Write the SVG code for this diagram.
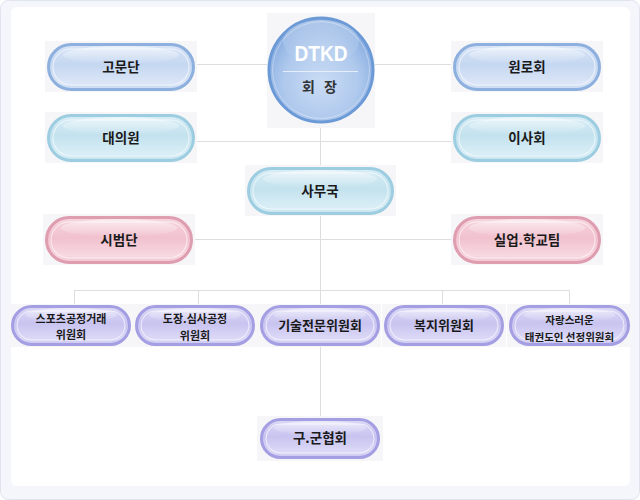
<svg xmlns="http://www.w3.org/2000/svg" width="640" height="500" viewBox="0 0 640 500">
<defs>
  <linearGradient id="gBlue" x1="0" y1="0" x2="0" y2="1">
    <stop offset="0" stop-color="#d9e5f7"/><stop offset="0.45" stop-color="#c5d7f1"/><stop offset="0.85" stop-color="#dbe6f7"/><stop offset="1" stop-color="#c8d9f2"/>
  </linearGradient>
  <linearGradient id="gCyan" x1="0" y1="0" x2="0" y2="1">
    <stop offset="0" stop-color="#d8edf6"/><stop offset="0.45" stop-color="#c3e2ee"/><stop offset="0.85" stop-color="#d9eef6"/><stop offset="1" stop-color="#c5e3ef"/>
  </linearGradient>
  <linearGradient id="gPink" x1="0" y1="0" x2="0" y2="1">
    <stop offset="0" stop-color="#f6d6df"/><stop offset="0.45" stop-color="#f1c1ce"/><stop offset="0.85" stop-color="#f7d8e1"/><stop offset="1" stop-color="#f1c3d0"/>
  </linearGradient>
  <linearGradient id="gPurple" x1="0" y1="0" x2="0" y2="1">
    <stop offset="0" stop-color="#dcd9f6"/><stop offset="0.45" stop-color="#c8c4f0"/><stop offset="0.85" stop-color="#dcd9f7"/><stop offset="1" stop-color="#c9c5f0"/>
  </linearGradient>
  <radialGradient id="gCircle" cx="0.5" cy="0.62" r="0.6">
    <stop offset="0" stop-color="#cadcf4"/><stop offset="0.6" stop-color="#afc9ed"/><stop offset="1" stop-color="#84aadf"/>
  </radialGradient>
  <linearGradient id="gGloss" x1="0" y1="0" x2="0" y2="1">
    <stop offset="0" stop-color="#ffffff" stop-opacity="0.55"/><stop offset="1" stop-color="#ffffff" stop-opacity="0"/>
  </linearGradient>
</defs>
<style>
  .bg { fill: #f6f6f8; }
  .pill { stroke-width: 3; }
  .inner { fill: none; stroke: #ffffff; stroke-opacity: 0.7; stroke-width: 1; }
  .gloss { fill: url(#gGloss); }
  .blue .pill { fill: url(#gBlue); stroke: #8db0de; }
  .cyan .pill { fill: url(#gCyan); stroke: #9dcde0; }
  .pink .pill { fill: url(#gPink); stroke: #df9db0; }
  .purple .pill { fill: url(#gPurple); stroke: #a49ee3; }
  .lbl { font-family: "Noto Sans CJK KR", "Noto Sans", sans-serif; font-weight: bold; fill: #1a1a1a; text-anchor: middle; }
  .big { font-size: 13.5px; }
  .mid { font-size: 13px; }
  .sm { font-size: 11px; }
  .xs { font-size: 10.5px; }
  .conn line { stroke: #dddddd; stroke-width: 1; }
</style>

<rect x="0.5" y="0.5" width="639" height="499" rx="8" fill="#f4f6fb" stroke="#dfe4ef"/>
<rect x="11" y="7" width="619" height="479" rx="6" fill="#ffffff"/>

<g id="connectors" class="conn">
  <line x1="195" y1="64.5" x2="453" y2="64.5"/>
  <line x1="195" y1="141.5" x2="453" y2="141.5"/>
  <line x1="320.5" y1="120" x2="320.5" y2="418"/>
  <line x1="193" y1="239.5" x2="453" y2="239.5"/>
  <line x1="74.5" y1="290.5" x2="569.5" y2="290.5"/>
  <line x1="74.5" y1="290" x2="74.5" y2="306"/>
  <line x1="198.5" y1="290" x2="198.5" y2="306"/>
  <line x1="442.5" y1="290" x2="442.5" y2="306"/>
  <line x1="569.5" y1="290" x2="569.5" y2="306"/>
</g>

<g id="president">
  <rect class="bg" x="267" y="13" width="108" height="115"/>
  <circle cx="321" cy="70" r="52" fill="url(#gCircle)" stroke="#6c9ad7" stroke-width="3"/>
  <circle cx="321" cy="70" r="48.5" fill="none" stroke="#ffffff" stroke-opacity="0.35" stroke-width="1"/>
  <ellipse cx="321" cy="42" rx="38" ry="22" fill="url(#gGloss)" opacity="0.6"/>
  <line x1="283" y1="71.5" x2="358" y2="71.5" stroke="#e6eefa" stroke-width="1"/>
  <text x="321" y="61" font-family="Liberation Sans, Arial, sans-serif" font-weight="bold" font-size="22" fill="#ffffff" text-anchor="middle" textLength="53" lengthAdjust="spacingAndGlyphs">DTKD</text>
  <text x="321" y="92" class="lbl" font-size="14" style="fill:#333333;letter-spacing:3px">회 장</text>
</g>

<g id="gomundan" class="blue">
  <rect class="bg" x="45" y="41" width="152" height="51"/>
  <rect class="pill" x="48.5" y="44.5" width="145" height="45" rx="22.5"/>
  <rect class="inner" x="53" y="49" width="136" height="36" rx="18"/>
  <ellipse class="gloss" cx="121" cy="55" rx="58" ry="9"/>
  <text class="lbl big" x="121" y="72">고문단</text>
</g>

<g id="wonrohoe" class="blue">
  <rect class="bg" x="451" y="41" width="152" height="51"/>
  <rect class="pill" x="454.5" y="44.5" width="145" height="45" rx="22.5"/>
  <rect class="inner" x="459" y="49" width="136" height="36" rx="18"/>
  <ellipse class="gloss" cx="527" cy="55" rx="58" ry="9"/>
  <text class="lbl big" x="527" y="72">원로회</text>
</g>

<g id="daeuiwon" class="cyan">
  <rect class="bg" x="45" y="112" width="152" height="51"/>
  <rect class="pill" x="48.5" y="115.5" width="145" height="45" rx="22.5"/>
  <rect class="inner" x="53" y="120" width="136" height="36" rx="18"/>
  <ellipse class="gloss" cx="121" cy="126" rx="58" ry="9"/>
  <text class="lbl big" x="121" y="143">대의원</text>
</g>

<g id="isahoe" class="cyan">
  <rect class="bg" x="451" y="112" width="152" height="51"/>
  <rect class="pill" x="454.5" y="115.5" width="145" height="45" rx="22.5"/>
  <rect class="inner" x="459" y="120" width="136" height="36" rx="18"/>
  <ellipse class="gloss" cx="527" cy="126" rx="58" ry="9"/>
  <text class="lbl big" x="527" y="143">이사회</text>
</g>

<g id="samuguk" class="cyan">
  <rect class="bg" x="245" y="165" width="151" height="51"/>
  <rect class="pill" x="248.5" y="168.5" width="144" height="45" rx="22.5"/>
  <rect class="inner" x="253" y="173" width="135" height="36" rx="18"/>
  <ellipse class="gloss" cx="320" cy="179" rx="57" ry="9"/>
  <text class="lbl big" x="320" y="196">사무국</text>
</g>

<g id="sibeomdan" class="pink">
  <rect class="bg" x="43" y="214" width="152" height="51"/>
  <rect class="pill" x="46.5" y="217.5" width="145" height="45" rx="22.5"/>
  <rect class="inner" x="51" y="222" width="136" height="36" rx="18"/>
  <ellipse class="gloss" cx="119" cy="228" rx="58" ry="9"/>
  <text class="lbl big" x="119" y="245">시범단</text>
</g>

<g id="sileop" class="pink">
  <rect class="bg" x="451" y="214" width="152" height="51"/>
  <rect class="pill" x="454.5" y="217.5" width="145" height="45" rx="22.5"/>
  <rect class="inner" x="459" y="222" width="136" height="36" rx="18"/>
  <ellipse class="gloss" cx="527" cy="228" rx="58" ry="9"/>
  <text class="lbl big" x="527" y="245">실업.학교팀</text>
</g>

<g id="sports" class="purple">
  <rect class="bg" x="9" y="304" width="124" height="43"/>
  <rect class="pill" x="12.5" y="306.5" width="117" height="38" rx="19"/>
  <rect class="inner" x="17" y="311" width="108" height="29" rx="14.5"/>
  <ellipse class="gloss" cx="71" cy="315" rx="46" ry="7"/>
  <text class="lbl sm" x="71" y="323">스포츠공정거래</text>
  <text class="lbl sm" x="71" y="339">위원회</text>
</g>

<g id="dojang" class="purple">
  <rect class="bg" x="133" y="304" width="124" height="43"/>
  <rect class="pill" x="136.5" y="306.5" width="117" height="38" rx="19"/>
  <rect class="inner" x="141" y="311" width="108" height="29" rx="14.5"/>
  <ellipse class="gloss" cx="195" cy="315" rx="46" ry="7"/>
  <text class="lbl sm" x="195" y="323">도장.심사공정</text>
  <text class="lbl sm" x="195" y="340">위원회</text>
</g>

<g id="gisul" class="purple">
  <rect class="bg" x="257" y="304" width="124" height="43"/>
  <rect class="pill" x="261.5" y="306.5" width="117" height="38" rx="19"/>
  <rect class="inner" x="266" y="311" width="108" height="29" rx="14.5"/>
  <ellipse class="gloss" cx="320" cy="315" rx="46" ry="7"/>
  <text class="lbl mid" x="320" y="330">기술전문위원회</text>
</g>

<g id="bokji" class="purple">
  <rect class="bg" x="382" y="304" width="124" height="43"/>
  <rect class="pill" x="385.5" y="306.5" width="117" height="38" rx="19"/>
  <rect class="inner" x="390" y="311" width="108" height="29" rx="14.5"/>
  <ellipse class="gloss" cx="444" cy="315" rx="46" ry="7"/>
  <text class="lbl mid" x="444" y="330">복지위원회</text>
</g>

<g id="jarang" class="purple">
  <rect class="bg" x="507" y="304" width="124" height="43"/>
  <rect class="pill" x="510.5" y="306.5" width="118" height="38" rx="19"/>
  <rect class="inner" x="515" y="311" width="109" height="29" rx="14.5"/>
  <ellipse class="gloss" cx="569.5" cy="315" rx="46" ry="7"/>
  <text class="lbl xs" x="569.5" y="324">자랑스러운</text>
  <text class="lbl xs" x="569.5" y="341">태권도인 선정위원회</text>
</g>

<g id="gugun" class="purple">
  <rect class="bg" x="257" y="416" width="126" height="45"/>
  <rect class="pill" x="261.5" y="419.5" width="117" height="38" rx="19"/>
  <rect class="inner" x="266" y="424" width="108" height="29" rx="14.5"/>
  <ellipse class="gloss" cx="320" cy="428" rx="46" ry="7"/>
  <text class="lbl big" x="320" y="443">구.군협회</text>
</g>
</svg>
